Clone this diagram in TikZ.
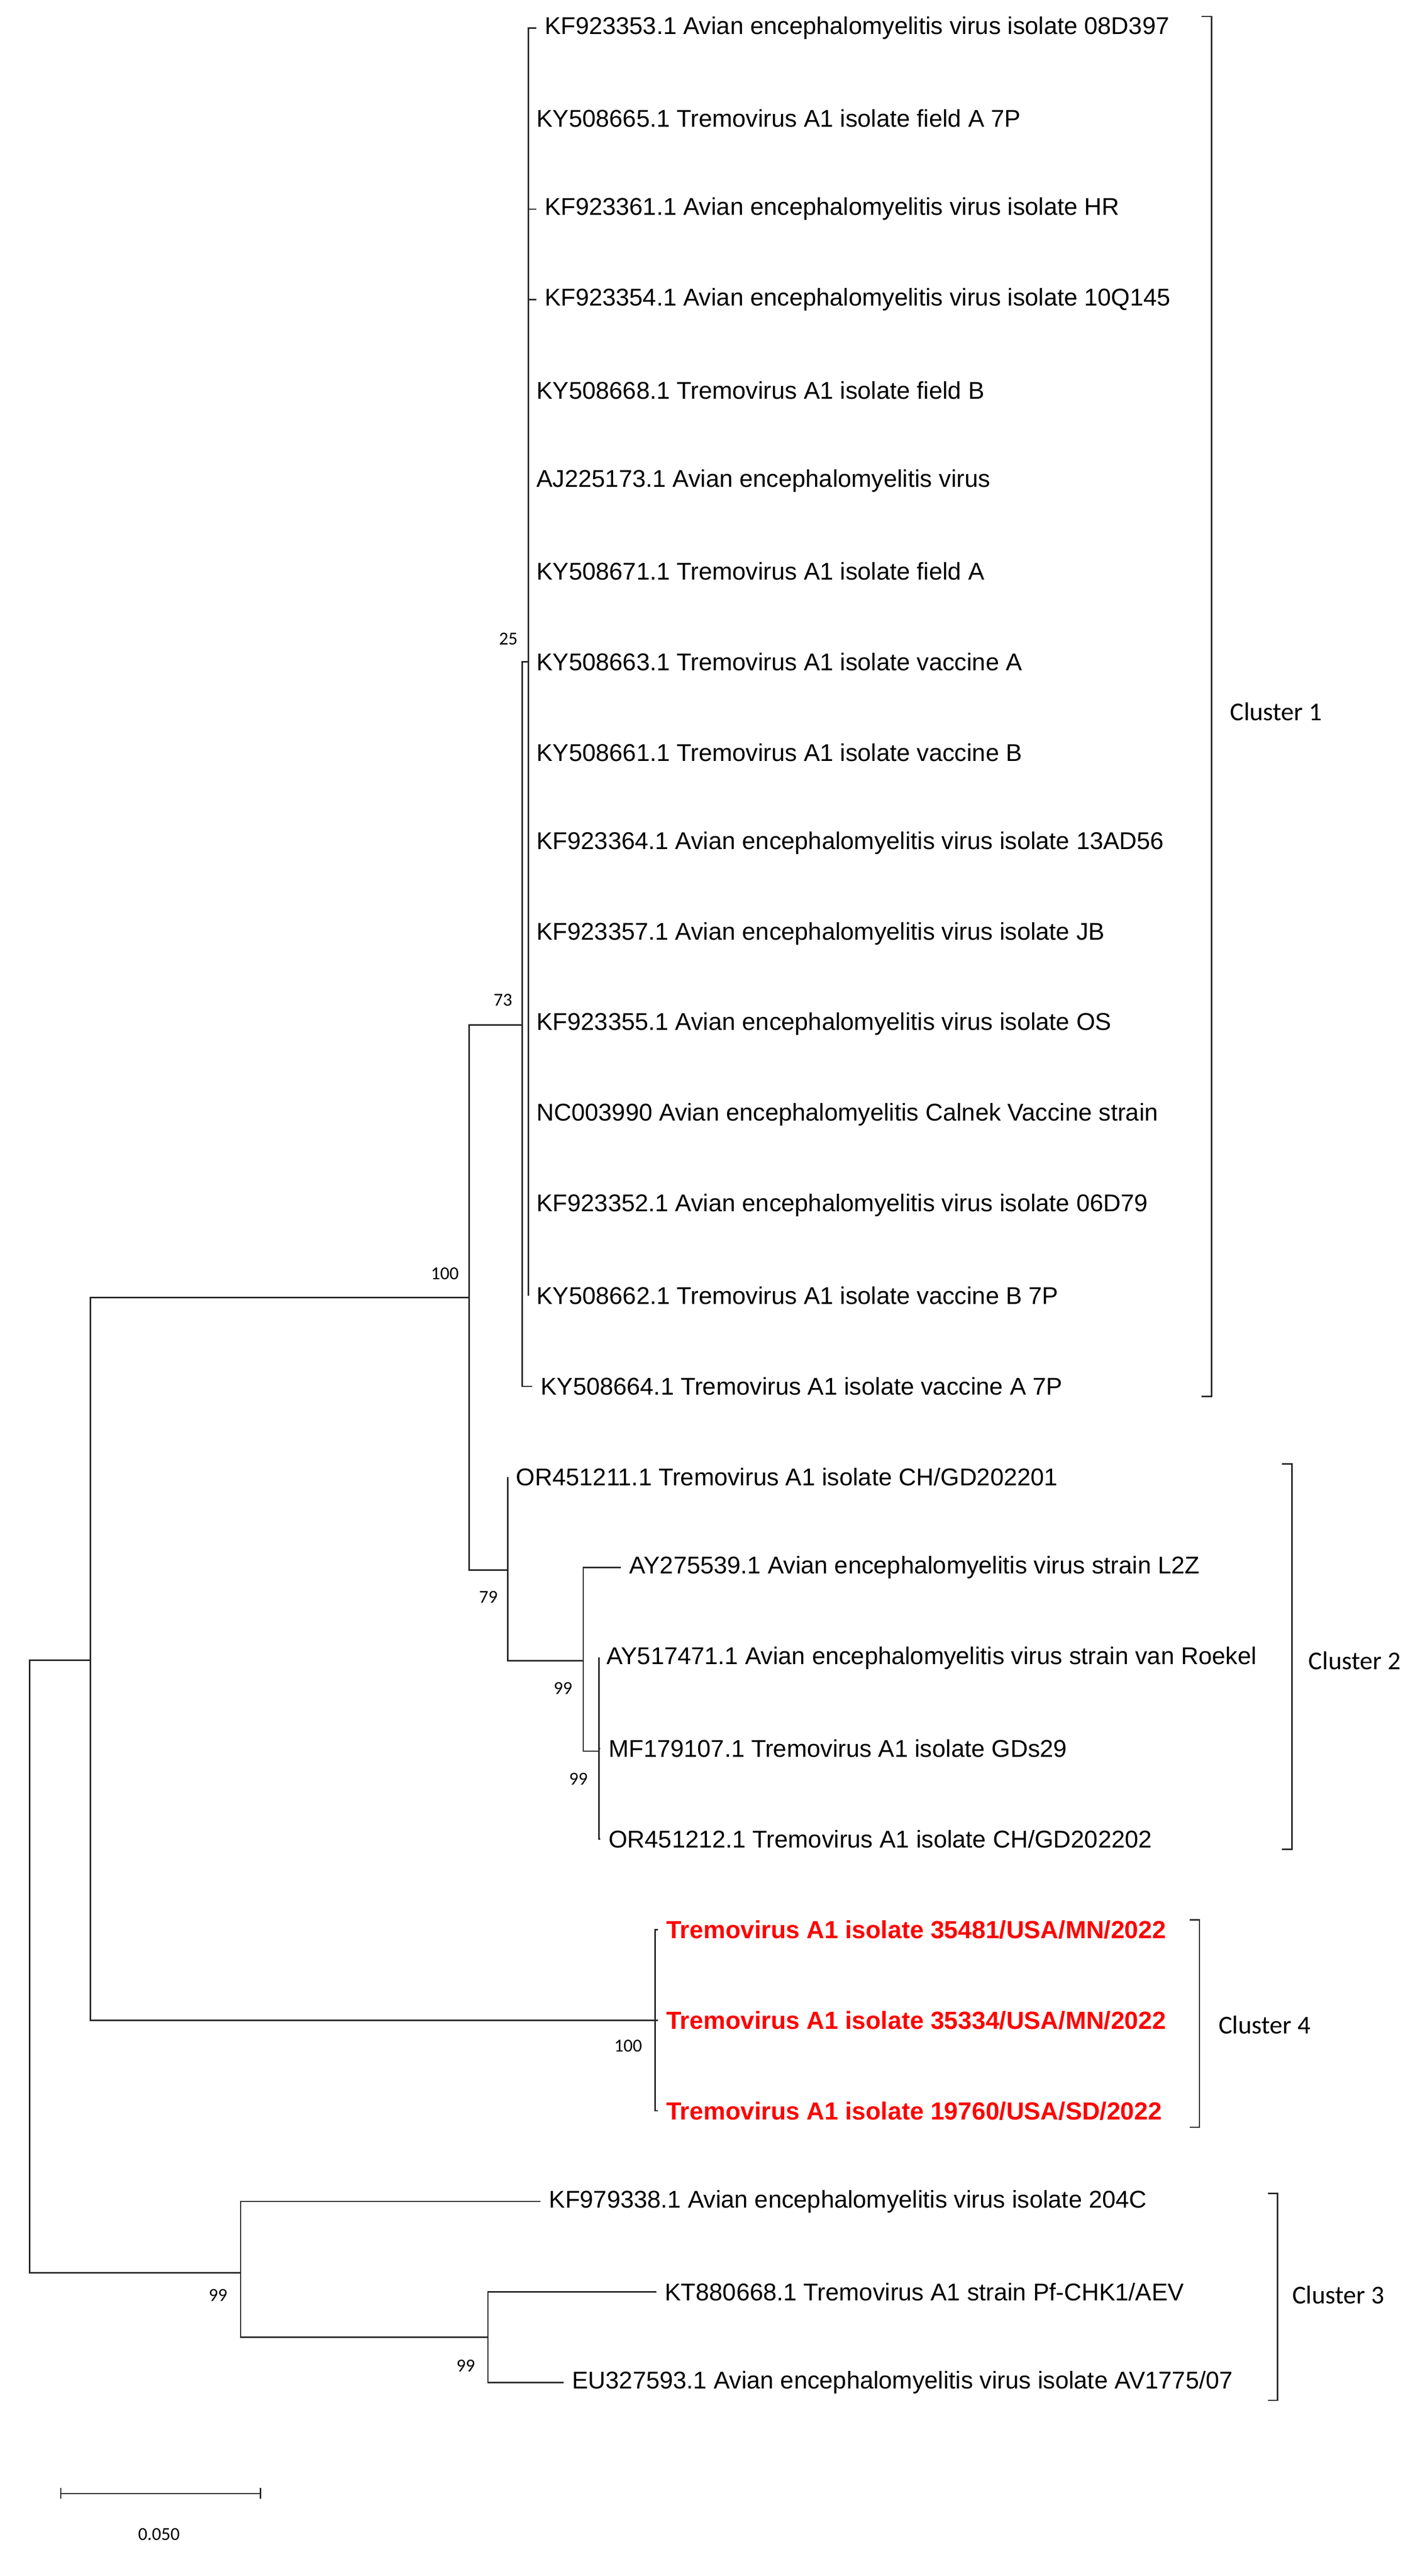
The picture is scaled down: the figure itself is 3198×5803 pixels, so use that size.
\documentclass[tikz,border=0pt]{standalone}
\usepackage{fontspec}
\setmainfont{Liberation Sans}
\newfontfamily\calfont{Carlito}
\begin{document}
\begin{tikzpicture}[x=0.25pt,y=-0.25pt,
  br/.style={line width=0.75pt,black!85},
  leaf/.style={anchor=west,inner xsep=4.5pt,inner ysep=0pt,font=\fontsize{13.65}{15}\selectfont},
  redleaf/.style={leaf,text=red,font=\fontsize{13.95}{15}\selectfont\bfseries},
  boot/.style={font=\calfont\fontsize{10.3}{12}\selectfont,inner sep=0pt},
  clab/.style={anchor=west,font=\calfont\fontsize{14.5}{16}\selectfont,inner sep=0pt}]
\useasboundingbox (0,0) rectangle (3198,5803);
% leaves
\node[leaf] (L0) at (1208,63) {KF923353.1 Avian encephalomyelitis virus isolate 08D397};
\node[leaf] (L1) at (1190,267) {KY508665.1 Tremovirus A1 isolate field A 7P};
\node[leaf] (L2) at (1208,471) {KF923361.1 Avian encephalomyelitis virus isolate HR};
\node[leaf] (L3) at (1208,675) {KF923354.1 Avian encephalomyelitis virus isolate 10Q145};
\node[leaf] (L4) at (1190,879) {KY508668.1 Tremovirus A1 isolate field B};
\node[leaf] (L5) at (1190,1083) {AJ225173.1 Avian encephalomyelitis virus};
\node[leaf] (L6) at (1190,1287) {KY508671.1 Tremovirus A1 isolate field A};
\node[leaf] (L7) at (1190,1491) {KY508663.1 Tremovirus A1 isolate vaccine A};
\node[leaf] (L8) at (1190,1695) {KY508661.1 Tremovirus A1 isolate vaccine B};
\node[leaf] (L9) at (1190,1899) {KF923364.1 Avian encephalomyelitis virus isolate 13AD56};
\node[leaf] (L10) at (1190,2103) {KF923357.1 Avian encephalomyelitis virus isolate JB};
\node[leaf] (L11) at (1190,2307) {KF923355.1 Avian encephalomyelitis virus isolate OS};
\node[leaf] (L12) at (1190,2511) {NC003990 Avian encephalomyelitis Calnek Vaccine strain};
\node[leaf] (L13) at (1190,2715) {KF923352.1 Avian encephalomyelitis virus isolate 06D79};
\node[leaf] (L14) at (1190,2919) {KY508662.1 Tremovirus A1 isolate vaccine B 7P};
\node[leaf] (L15) at (1199,3123) {KY508664.1 Tremovirus A1 isolate vaccine A 7P};
\node[leaf] (L16) at (1144,3327) {OR451211.1 Tremovirus A1 isolate CH/GD202201};
\node[leaf] (L17) at (1399,3531) {AY275539.1 Avian encephalomyelitis virus strain L2Z};
\node[leaf] (L18) at (1348,3735) {AY517471.1 Avian encephalomyelitis virus strain van Roekel};
\node[leaf] (L19) at (1352,3939) {MF179107.1 Tremovirus A1 isolate GDs29};
\node[leaf] (L20) at (1352,4143) {OR451212.1 Tremovirus A1 isolate CH/GD202202};
\node[redleaf] (L21) at (1482,4347) {Tremovirus A1 isolate 35481/USA/MN/2022};
\node[redleaf] (L22) at (1482,4551) {Tremovirus A1 isolate 35334/USA/MN/2022};
\node[redleaf] (L23) at (1482,4755) {Tremovirus A1 isolate 19760/USA/SD/2022};
\node[leaf] (L24) at (1218,4959) {KF979338.1 Avian encephalomyelitis virus isolate 204C};
\node[leaf] (L25) at (1479,5163) {KT880668.1 Tremovirus A1 strain Pf-CHK1/AEV};
\node[leaf] (L26) at (1270,5367) {EU327593.1 Avian encephalomyelitis virus isolate AV1775/07};
% internal nodes
\coordinate (R) at (67,4430);
\coordinate (A) at (204,3740);
\coordinate (N100) at (1057,2923);
\coordinate (N73) at (1176,2309);
\coordinate (N25) at (1190,1491);
\coordinate (N79) at (1144,3537);
\coordinate (N99a) at (1314,3741);
\coordinate (N99b) at (1349,3945);
\coordinate (N4) at (1476,4551);
\coordinate (C3) at (542,5120);
\coordinate (C3b) at (1099,5265);
% branches
\draw[br] (A) -| (R) |- (C3);
\draw[br] (N100) -| (A) |- (N4);
\draw[br] (N73) -| (N100) |- (N79);
\draw[br] (N25) -| (N73) |- (L15.west);
\foreach \i in {0,...,14} \draw[br] (N25) |- (L\i.west);
\draw[br] (N79) |- (L16.west);
\draw[br] (N79) |- (N99a);
\draw[br] (N99a) |- (L17.west);
\draw[br] (N99a) |- (N99b);
\foreach \i in {18,19,20} \draw[br] (N99b) |- (L\i.west);
\foreach \i in {21,22,23} \draw[br] (N4) |- (L\i.west);
\draw[br] (C3) |- (L24.west);
\draw[br] (C3) |- (C3b);
\draw[br] (C3b) |- (L25.west);
\draw[br] (C3b) |- (L26.west);
% bootstrap
\node[boot] (b25) at (1145,1439) {25};
\node[boot] (b73) at (1133,2253) {73};
\node[boot] (b100a) at (1002,2869) {100};
\node[boot] (b79) at (1100,3598) {79};
\node[boot] (b99a) at (1268,3803) {99};
\node[boot] (b99b) at (1303,4007) {99};
\node[boot] (b100b) at (1415,4609) {100};
\node[boot] (b99c) at (491,5170) {99};
\node[boot] (b99d) at (1049,5329) {99};
% brackets
\coordinate (k1a) at (2729,37); \coordinate (k1b) at (2729,3146);
\coordinate (k2a) at (2910,3298); \coordinate (k2b) at (2910,4166);
\coordinate (k4a) at (2702,4325); \coordinate (k4b) at (2702,4792);
\coordinate (k3a) at (2878,4941); \coordinate (k3b) at (2878,5407);
\foreach \k in {k1,k2,k4,k3}
  \draw[br] ([xshift=-5.5pt]\k a) -- (\k a) -- (\k b) -- ([xshift=-5.5pt]\k b);
\node[clab] (c1) at (2770,1603) {Cluster 1};
\node[clab] (c2) at (2947,3741) {Cluster 2};
\node[clab] (c4) at (2744,4561) {Cluster 4};
\node[clab] (c3) at (2910,5170) {Cluster 3};
% scale bar
\coordinate (s1) at (137,5617); \coordinate (s2) at (587,5617);
\draw[br] ([yshift=3pt]s1) -- ([yshift=-3pt]s1);
\draw[br] ([yshift=3pt]s2) -- ([yshift=-3pt]s2);
\draw[br] (s1) -- (s2);
\node[boot] (sl) at (358,5709) {0.050};
\end{tikzpicture}
\end{document}
